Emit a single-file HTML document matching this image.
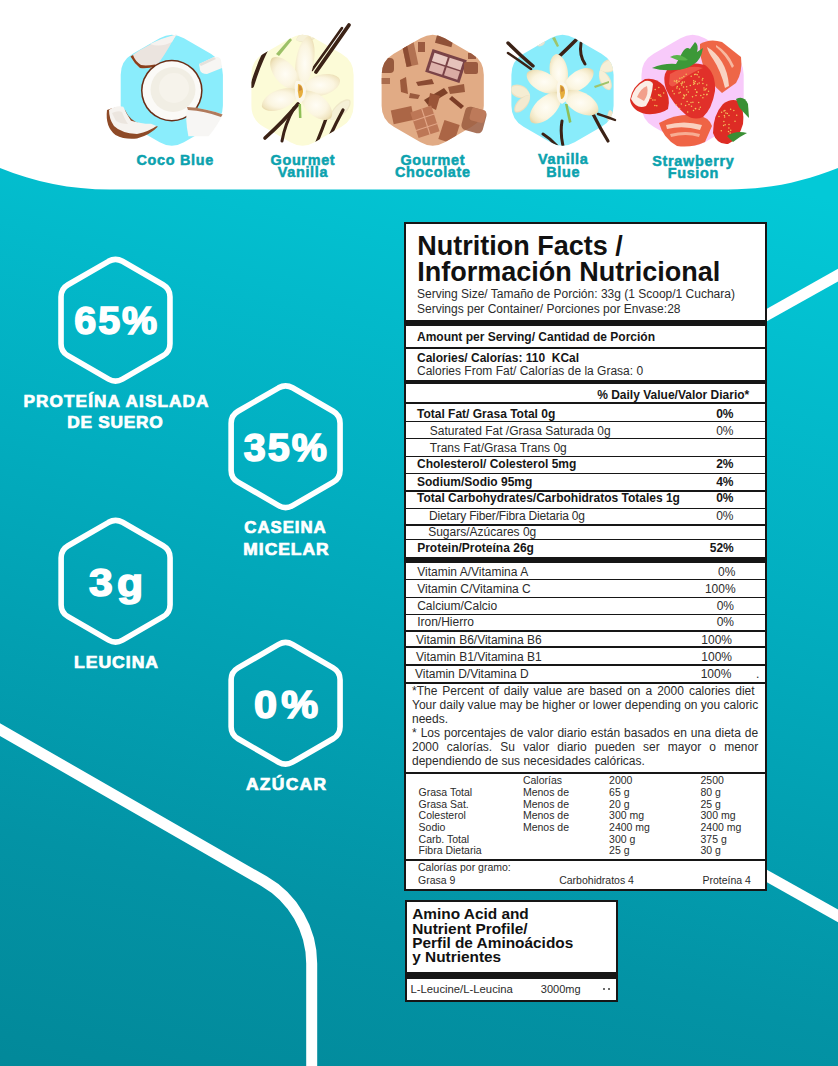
<!DOCTYPE html><html><head><meta charset="utf-8"><style>
*{margin:0;padding:0;box-sizing:border-box}
html,body{width:838px;height:1066px;overflow:hidden;background:#fff}
body{position:relative;font-family:"Liberation Sans",sans-serif}
.a{position:absolute;white-space:nowrap}
svg{position:absolute;left:0;top:0}
.t12{font-size:12px;line-height:12px;color:#2b2b2b}
.b12{font-size:12px;line-height:12px;font-weight:bold;color:#161616}
.t105{font-size:10.5px;line-height:10.5px;color:#2b2b2b}
.hl{position:absolute;background:#161616}
.wl{color:#fff;font-weight:bold;text-align:center;-webkit-text-stroke:0.7px #fff}
.wn{-webkit-text-stroke:1.6px #fff}
.fl{color:#0ba2ae;font-weight:bold;text-align:center;font-size:14.8px;line-height:12px;-webkit-text-stroke:0.5px #0ba2ae}
</style></head><body>
<svg width="838" height="1066" viewBox="0 0 838 1066">
<defs><linearGradient id="bg" gradientUnits="userSpaceOnUse" x1="419" y1="100.6" x2="169.4" y2="1140.6">
<stop offset="0" stop-color="#03c9d7"/><stop offset="0.2" stop-color="#03bacb"/><stop offset="0.385" stop-color="#02adbf"/><stop offset="0.568" stop-color="#02a0b2"/><stop offset="0.756" stop-color="#0393a5"/><stop offset="0.939" stop-color="#028a9b"/><stop offset="1" stop-color="#028798"/></linearGradient></defs>
<path d="M0,168 C35,182 70,189.5 110,189.5 L728,189.5 C768,189.5 803,182 838,168 L838,1066 L0,1066 Z" fill="url(#bg)"/>
<path d="M-10,723.86 L263.99,881.13 A95,95 0 0 1 311.70,963.52 L311.7,1080" fill="none" stroke="#fff" stroke-width="11"/>
<path d="M850,268.37 L700,352.46" fill="none" stroke="#fff" stroke-width="11"/>
<path d="M700,838.35 L850,922.65" fill="none" stroke="#fff" stroke-width="11"/>
<path d="M108.57,261.30 Q115.50,257.30 122.43,261.30 L163.04,284.75 Q169.97,288.75 169.97,296.75 L169.97,343.65 Q169.97,351.65 163.04,355.65 L122.43,379.10 Q115.50,383.10 108.57,379.10 L67.96,355.65 Q61.03,351.65 61.03,343.65 L61.03,296.75 Q61.03,288.75 67.96,284.75 Z" fill="none" stroke="#fff" stroke-width="5.6"/>
<path d="M278.67,387.80 Q285.60,383.80 292.53,387.80 L333.14,411.25 Q340.07,415.25 340.07,423.25 L340.07,470.15 Q340.07,478.15 333.14,482.15 L292.53,505.60 Q285.60,509.60 278.67,505.60 L238.06,482.15 Q231.13,478.15 231.13,470.15 L231.13,423.25 Q231.13,415.25 238.06,411.25 Z" fill="none" stroke="#fff" stroke-width="5.6"/>
<path d="M108.67,522.30 Q115.60,518.30 122.53,522.30 L163.14,545.75 Q170.07,549.75 170.07,557.75 L170.07,604.65 Q170.07,612.65 163.14,616.65 L122.53,640.10 Q115.60,644.10 108.67,640.10 L68.06,616.65 Q61.13,612.65 61.13,604.65 L61.13,557.75 Q61.13,549.75 68.06,545.75 Z" fill="none" stroke="#fff" stroke-width="5.6"/>
<path d="M278.67,644.40 Q285.60,640.40 292.53,644.40 L333.14,667.85 Q340.07,671.85 340.07,679.85 L340.07,726.75 Q340.07,734.75 333.14,738.75 L292.53,762.20 Q285.60,766.20 278.67,762.20 L238.06,738.75 Q231.13,734.75 231.13,726.75 L231.13,679.85 Q231.13,671.85 238.06,667.85 Z" fill="none" stroke="#fff" stroke-width="5.6"/>
<path d="M159.68,38.20 Q171.80,31.20 183.92,38.20 L210.77,53.70 Q222.90,60.70 222.90,74.70 L222.90,105.70 Q222.90,119.70 210.77,126.70 L183.92,142.20 Q171.80,149.20 159.68,142.20 L132.83,126.70 Q120.70,119.70 120.70,105.70 L120.70,74.70 Q120.70,60.70 132.83,53.70 Z" fill="#8aedfc"/>
<path d="M290.38,38.20 Q302.50,31.20 314.62,38.20 L341.47,53.70 Q353.60,60.70 353.60,74.70 L353.60,105.70 Q353.60,119.70 341.47,126.70 L314.62,142.20 Q302.50,149.20 290.38,142.20 L263.53,126.70 Q251.40,119.70 251.40,105.70 L251.40,74.70 Q251.40,60.70 263.53,53.70 Z" fill="#fcfbd7"/>
<path d="M420.58,38.20 Q432.70,31.20 444.82,38.20 L471.67,53.70 Q483.80,60.70 483.80,74.70 L483.80,105.70 Q483.80,119.70 471.67,126.70 L444.82,142.20 Q432.70,149.20 420.58,142.20 L393.73,126.70 Q381.60,119.70 381.60,105.70 L381.60,74.70 Q381.60,60.70 393.73,53.70 Z" fill="#e1ab85"/>
<path d="M550.38,38.20 Q562.50,31.20 574.62,38.20 L601.47,53.70 Q613.60,60.70 613.60,74.70 L613.60,105.70 Q613.60,119.70 601.47,126.70 L574.62,142.20 Q562.50,149.20 550.38,142.20 L523.53,126.70 Q511.40,119.70 511.40,105.70 L511.40,74.70 Q511.40,60.70 523.53,53.70 Z" fill="#89ecfb"/>
<path d="M680.48,38.20 Q692.60,31.20 704.72,38.20 L731.57,53.70 Q743.70,60.70 743.70,74.70 L743.70,105.70 Q743.70,119.70 731.57,126.70 L704.72,142.20 Q692.60,149.20 680.48,142.20 L653.63,126.70 Q641.50,119.70 641.50,105.70 L641.50,74.70 Q641.50,60.70 653.63,53.70 Z" fill="#f8cafa"/>
<defs><clipPath id="h1"><path d="M159.68,38.20 Q171.80,31.20 183.92,38.20 L210.77,53.70 Q222.90,60.70 222.90,74.70 L222.90,105.70 Q222.90,119.70 210.77,126.70 L183.92,142.20 Q171.80,149.20 159.68,142.20 L132.83,126.70 Q120.70,119.70 120.70,105.70 L120.70,74.70 Q120.70,60.70 132.83,53.70 Z"/></clipPath><clipPath id="h2"><path d="M290.38,38.20 Q302.50,31.20 314.62,38.20 L341.47,53.70 Q353.60,60.70 353.60,74.70 L353.60,105.70 Q353.60,119.70 341.47,126.70 L314.62,142.20 Q302.50,149.20 290.38,142.20 L263.53,126.70 Q251.40,119.70 251.40,105.70 L251.40,74.70 Q251.40,60.70 263.53,53.70 Z"/></clipPath><clipPath id="h3"><path d="M420.58,38.20 Q432.70,31.20 444.82,38.20 L471.67,53.70 Q483.80,60.70 483.80,74.70 L483.80,105.70 Q483.80,119.70 471.67,126.70 L444.82,142.20 Q432.70,149.20 420.58,142.20 L393.73,126.70 Q381.60,119.70 381.60,105.70 L381.60,74.70 Q381.60,60.70 393.73,53.70 Z"/></clipPath><clipPath id="h4"><path d="M550.38,38.20 Q562.50,31.20 574.62,38.20 L601.47,53.70 Q613.60,60.70 613.60,74.70 L613.60,105.70 Q613.60,119.70 601.47,126.70 L574.62,142.20 Q562.50,149.20 550.38,142.20 L523.53,126.70 Q511.40,119.70 511.40,105.70 L511.40,74.70 Q511.40,60.70 523.53,53.70 Z"/></clipPath><clipPath id="h5"><path d="M680.48,38.20 Q692.60,31.20 704.72,38.20 L731.57,53.70 Q743.70,60.70 743.70,74.70 L743.70,105.70 Q743.70,119.70 731.57,126.70 L704.72,142.20 Q692.60,149.20 680.48,142.20 L653.63,126.70 Q641.50,119.70 641.50,105.70 L641.50,74.70 Q641.50,60.70 653.63,53.70 Z"/></clipPath></defs>

<g>
<!-- top-left shell piece -->
<path d="M130.5,56.5 Q150,42 176.5,34.5 L173,40 Q165,55 156,66.5 Q147,69 140,68 Q134,63 130.5,56.5 Z" fill="#ebe4df"/>
<path d="M150,44 Q162,38 176.5,34.5 L172,42 Q160,48 150,44 Z" fill="#f6f2ef"/>
<path d="M130.5,56.5 Q134,63 140,68 Q147,69 156,66.5 L155,64.5 Q146,66 141,65 Q135,61 133,55 Z" fill="#8a3f1c"/>
<!-- big coconut -->
<circle cx="171.8" cy="90.6" r="30.8" fill="#6a2e17"/>
<circle cx="171.8" cy="90.6" r="29.3" fill="#fbfaf7"/>
<circle cx="173" cy="89.5" r="22.5" fill="#f1eee4"/>
<circle cx="174" cy="88" r="15" fill="#f6f3eb"/>
<!-- right small chunk -->
<path d="M199,64 L214,57 Q219,56 221,60 L222,68 L207,74 Q201,74 200,70 Z" fill="#f7f6f3"/>
<path d="M199,64 L214,57 L216,59 L201,66 Z" fill="#e5e1dc"/>
<!-- bottom-left shell -->
<path d="M107,110 Q105,127 115.5,135 Q125,140 137,138.5 Q150,135 158,126.5 Q150,125 141,124 Q130,121 125,110 Q117,105 107,110 Z" fill="#8e4a27"/>
<path d="M109,110 Q116,105 123.3,106.7 Q127,115 131,120.7 Q142,124 151,123.8 L156.5,126 Q150,131 137,134 Q121,133 114,126 Q109,119 109,110 Z" fill="#f6f3ef"/>
<path d="M112,113 Q118,110 122,112 Q125,120 128,124 Q121,124 116,121 Z" fill="#ece6df"/>
<!-- bottom-right chunk -->
<path d="M187,107 Q205,108 222.6,114.5 Q218,125 208.6,136.2 L188.4,136.2 Q185,120 187,107 Z" fill="#f7f6f4"/>
<path d="M187,107 Q205,108 222.6,114.5 L221,117 Q205,111 188,110 Z" fill="#b07a5c"/>
</g><defs><radialGradient id="pgr" cx="0.5" cy="0.5" r="0.62"><stop offset="0" stop-color="#fffdf5"/><stop offset="0.55" stop-color="#fbf5e0"/><stop offset="0.85" stop-color="#f1e6c2"/><stop offset="1" stop-color="#e6d6a8"/></radialGradient></defs><g><g clip-path="url(#h2)"><path d="M330.0,120.0 C342.4,120.4 353.5,105.5 350.0,100.0 C344.5,96.5 329.6,107.6 330.0,120.0 Z" fill="#efe8c8"/><path d="M330.0,120.0 C340.7,119.5 351.5,105.5 349.0,101.0 C344.5,98.5 330.5,109.3 330.0,120.0 Z" fill="#f5f0d6"/><path d="M265.0,128.0 C254.9,124.6 246.8,134.5 250.0,140.0 C254.7,144.3 266.1,138.6 265.0,128.0 Z" fill="#efe8c8"/><path d="M265.0,128.0 C256.3,125.7 248.4,134.9 250.8,139.4 C254.6,142.7 265.3,137.0 265.0,128.0 Z" fill="#f5f0d6"/><path d="M296.0,40.0 C305.7,46.1 319.1,38.3 318.0,32.0 C314.7,26.5 299.5,29.1 296.0,40.0 Z" fill="#eee6c4"/><path d="M296.0,40.0 C304.6,44.5 317.5,37.5 316.9,32.4 C314.1,28.1 299.7,31.0 296.0,40.0 Z" fill="#f6f1d8"/><path d="M276,54 L290,38 L292,40 L279,56 Z" fill="#9cc067"/><path d="M266,50 Q258,66 252,86" fill="none" stroke="#3b2216" stroke-width="4" stroke-linecap="round"/><path d="M327,116 Q322,130 317,142" fill="none" stroke="#3b2216" stroke-width="3.2" stroke-linecap="round"/><path d="M343,110 Q336,123 330,136" fill="none" stroke="#3b2216" stroke-width="3.2" stroke-linecap="round"/></g><path d="M349,25 Q333,48 316,72" fill="none" stroke="#3b2216" stroke-width="3.8" stroke-linecap="round"/><path d="M342,28 Q328,48 312,70" fill="none" stroke="#3b2216" stroke-width="2.6" stroke-linecap="round"/><path d="M298,104 Q283,122 265,138" fill="none" stroke="#3b2216" stroke-width="3.6" stroke-linecap="round"/><path d="M294,108 Q285,124 282,141" fill="none" stroke="#3b2216" stroke-width="3.0" stroke-linecap="round"/><path d="M300.0,91.0 C316.5,76.8 318.2,40.3 309.0,36.0 C298.9,37.2 288.9,72.2 300.0,91.0 Z" fill="url(#pgr)"/><path d="M300.0,91.0 C303.8,70.7 281.9,52.4 272.0,58.0 C264.9,66.9 279.4,91.5 300.0,91.0 Z" fill="url(#pgr)"/><path d="M300.0,91.0 C316.2,103.1 341.0,91.3 340.0,80.0 C335.0,69.8 307.8,72.3 300.0,91.0 Z" fill="url(#pgr)"/><path d="M300.0,91.0 C282.8,82.0 259.8,96.5 262.0,107.0 C268.0,115.9 294.4,109.6 300.0,91.0 Z" fill="url(#pgr)"/><path d="M300.0,91.0 C298.8,111.2 322.1,125.1 331.0,118.0 C336.8,108.2 319.8,87.0 300.0,91.0 Z" fill="url(#pgr)"/><path d="M296,81 Q304,79 306,89 Q306,101 300,103 Q294,99 295,91 Q294,85 296,81 Z" fill="#fbf7ea"/><path d="M298,84 Q303,84 303,92 Q302,98 299,98 Q297,91 298,84 Z" fill="#e6ad3c"/><path d="M299,85 Q302,86 302,90 L299,91 Z" fill="#c9883a"/><path d="M298.5,104 L299,118 L301.5,118 L301,104 Z" fill="#8fbf57"/></g><g clip-path="url(#h3)"><rect x="436" y="35" width="17" height="10" transform="rotate(15 444 40)" fill="#8f5138"/><rect x="418" y="42" width="7" height="10" fill="#9a5a40"/><rect x="404" y="42" width="12" height="24" transform="rotate(-12 410 54)" fill="#b27252"/><rect x="404" y="42" width="5" height="24" transform="rotate(-12 410 54)" fill="#8c4c33"/><rect x="378" y="58" width="16" height="15" rx="4" fill="#8a4a30" opacity="0.85"/><rect x="380" y="78" width="10" height="6" fill="#9c5c3e" opacity="0.8"/><g transform="rotate(18 446 66)"><rect x="428" y="54" width="36" height="24" fill="#7a4347"/><rect x="431" y="57" width="14" height="8.5" fill="#e9c9c2"/><rect x="447" y="57" width="14" height="8.5" fill="#e6c2bb"/><rect x="431" y="67" width="14" height="8.5" fill="#ddb2ab"/><rect x="447" y="67" width="14" height="8.5" fill="#d9aca4"/></g><rect x="464" y="62" width="14" height="12" rx="2" fill="#9a5a40"/><rect x="468" y="53" width="8" height="6" fill="#9a5a40"/><path d="M416,82 L432,79 L434,84 L418,86 Z" fill="#8a4a32"/><path d="M400,80 L406,77 L408,94 L401,92 Z" fill="#9c5a3c"/><path d="M424,100 L444,88 L448,93 L428,105 Z" fill="#7e4128"/><path d="M448,87 L464,84 L465,92 L450,94 Z" fill="#9a5a3d"/><path d="M452,96 L464,106 L461,109 L449,99 Z" fill="#7b3c26"/><path d="M430,93 L440,96 L436,110 L428,106 Z" fill="#9a5437"/><path d="M410,93 L420,95 L418,99 L409,98 Z" fill="#9a5a3e"/><rect x="392" y="108" width="21" height="14" transform="rotate(-12 403 115)" fill="#ab6646"/><g transform="rotate(-18 426 122)"><rect x="414" y="108" width="22" height="27" fill="#bd7756"/><path d="M414,117 L438,117 M414,127 L438,127 M426,108 L426,136" stroke="#e2a686" stroke-width="1.2"/></g><rect x="441" y="122" width="16" height="20" transform="rotate(18 449 132)" fill="#ab6545"/></g><rect x="463" y="108" width="22" height="24" rx="5" transform="rotate(15 474 120)" fill="#9a5a3e" opacity="0.85"/><rect x="469" y="108" width="15" height="13" rx="3" transform="rotate(15 474 120)" fill="#c07c5c" opacity="0.9"/><g><g clip-path="url(#h4)"><path d="M530.0,95.0 C527.3,83.5 513.3,81.7 510.0,88.0 C508.7,95.0 520.7,102.3 530.0,95.0 Z" fill="#ede2c2"/><path d="M530.0,95.0 C527.0,85.5 513.8,83.5 511.0,88.3 C510.2,93.9 521.8,100.6 530.0,95.0 Z" fill="#f5edd3"/><path d="M530.0,95.0 C519.5,94.8 511.6,107.4 515.0,112.0 C519.9,114.9 531.5,105.4 530.0,95.0 Z" fill="#ebdfc0"/><path d="M530.0,95.0 C521.0,95.5 513.2,107.4 515.8,111.2 C519.8,113.2 530.6,104.0 530.0,95.0 Z" fill="#f3ead0"/><path d="M600.0,70.0 C609.5,76.7 619.9,68.8 618.0,62.0 C614.3,56.0 601.3,58.5 600.0,70.0 Z" fill="#ede3c5"/><path d="M600.0,70.0 C608.3,75.1 618.4,67.8 617.1,62.4 C614.0,57.8 601.8,60.4 600.0,70.0 Z" fill="#f6efd7"/><path d="M600.0,70.0 C595.8,79.6 604.5,91.5 610.0,90.0 C614.5,86.5 610.2,72.4 600.0,70.0 Z" fill="#ede3c5"/><path d="M600.0,70.0 C597.1,78.5 605.1,90.0 609.5,89.0 C612.9,86.0 608.5,72.7 600.0,70.0 Z" fill="#f6efd7"/><path d="M610.0,110.0 C604.7,115.3 607.7,124.8 612.0,125.0 C616.1,123.7 616.5,113.7 610.0,110.0 Z" fill="#e8dcc0"/><path d="M610.0,110.0 C605.8,114.8 608.5,123.9 611.9,124.2 C615.1,123.1 615.3,113.6 610.0,110.0 Z" fill="#efe6cc"/><path d="M535.0,45.0 C540.7,48.9 546.4,44.0 545.0,40.0 C542.6,36.5 535.3,38.1 535.0,45.0 Z" fill="#e2dfcc"/><path d="M535.0,45.0 C539.9,47.9 545.5,43.5 544.5,40.2 C542.5,37.5 535.7,39.3 535.0,45.0 Z" fill="#eae8d8"/><path d="M552,38 L557,47 L559,46 L555,37 Z" fill="#9ec46a"/><path d="M594,86 L609,81 L609,83 L595,88 Z" fill="#9ec46a"/><path d="M576,40 Q563,53 552,63" fill="none" stroke="#3b2216" stroke-width="3.6" stroke-linecap="round"/><path d="M581,43 Q579,55 585,64" fill="none" stroke="#3b2216" stroke-width="3.0" stroke-linecap="round"/><path d="M562,121 Q560,133 563,146" fill="none" stroke="#3b2216" stroke-width="3.0" stroke-linecap="round"/><path d="M543,134 Q551,139 557,146" fill="none" stroke="#3b2216" stroke-width="3.0" stroke-linecap="round"/></g><path d="M508,43 Q521,56 533,66" fill="none" stroke="#3b2216" stroke-width="3.4" stroke-linecap="round"/><path d="M508,53 Q520,61 531,69" fill="none" stroke="#3b2216" stroke-width="2.6" stroke-linecap="round"/><path d="M593,114 Q600,128 608,141" fill="none" stroke="#3b2216" stroke-width="3.2" stroke-linecap="round"/><path d="M598,114 Q610,118 615,120" fill="none" stroke="#3b2216" stroke-width="2.4" stroke-linecap="round"/><path d="M562.0,92.0 C574.0,78.4 566.0,54.4 556.0,54.0 C546.6,57.4 546.4,82.8 562.0,92.0 Z" fill="url(#pgr)"/><path d="M562.0,92.0 C558.7,73.1 533.8,64.7 527.0,73.0 C523.7,83.2 544.3,99.5 562.0,92.0 Z" fill="url(#pgr)"/><path d="M562.0,92.0 C579.4,96.8 597.1,79.1 593.0,70.0 C585.8,63.1 563.2,74.0 562.0,92.0 Z" fill="url(#pgr)"/><path d="M562.0,92.0 C541.6,89.5 524.8,112.5 531.0,122.0 C540.3,128.5 563.8,112.5 562.0,92.0 Z" fill="url(#pgr)"/><path d="M562.0,92.0 C565.0,112.0 590.8,120.8 598.0,112.0 C601.6,101.2 580.6,84.0 562.0,92.0 Z" fill="url(#pgr)"/><path d="M558,82 Q566,80 568,90 Q568,102 562,104 Q556,100 557,92 Q556,86 558,82 Z" fill="#fbf7ea"/><path d="M560,85 Q565,85 565,93 Q564,99 561,99 Q559,92 560,85 Z" fill="#e6ad3c"/><path d="M561,86 Q564,87 564,91 L561,92 Z" fill="#c9883a"/><path d="M565,104 L569,123 L571.5,122 L567.5,104 Z" fill="#8fbf57"/></g><g><path d="M700,44 Q710,38 722,42 L741,57 Q743,72 736,83 L722,93 Q711,84 705,70 Q699,56 700,44 Z" fill="#ee6647"/><path d="M707,47 Q716,52 722,62 Q728,72 729,86 L725,88 Q721,71 713,59 Q708,52 707,47 Z" fill="#f9d3c2"/><path d="M716,45 Q728,52 734,66 L732,68 Q726,55 716,47 Z" fill="#f7b8a0"/><path d="M659,123 Q676,113 697,115 Q709,117 712,126 L705,142 Q692,148 677,146 Q663,138 659,123 Z" fill="#ef6446"/><path d="M666,125 Q684,120 702,125 L700,130 Q683,125 667,129 Z" fill="#fad0be"/><path d="M670,134 Q686,130 700,134 L699,137 Q686,133 671,137 Z" fill="#f7ad93"/><path d="M630,100 Q632,86 645,79 Q656,77 664,86 Q671,98 668,109 Q660,115 646,114 Q632,111 630,100 Z" fill="#dc2c22"/><path d="M631,99 Q634,86 645,81 Q651,80 653,84 Q652,97 646,106 Q637,110 631,99 Z" fill="#fbeee6"/><path d="M637,97 Q641,88 647,86 Q649,94 644,101 Z" fill="#f2a08c"/><circle cx="655.2" cy="89.6" r="0.75" fill="#f4c35c"/><circle cx="658.6" cy="94.8" r="0.75" fill="#f4c35c"/><circle cx="650.9" cy="98.2" r="0.75" fill="#f4c35c"/><circle cx="656.8" cy="105.8" r="0.75" fill="#f4c35c"/><circle cx="659.2" cy="95.5" r="0.75" fill="#f4c35c"/><circle cx="663.7" cy="93.0" r="0.75" fill="#f4c35c"/><circle cx="654.9" cy="105.6" r="0.75" fill="#f4c35c"/><circle cx="652.9" cy="100.0" r="0.75" fill="#f4c35c"/><circle cx="660.2" cy="94.9" r="0.75" fill="#f4c35c"/><circle cx="658.8" cy="87.5" r="0.75" fill="#f4c35c"/><circle cx="660.9" cy="96.3" r="0.75" fill="#f4c35c"/><circle cx="655.0" cy="100.1" r="0.75" fill="#f4c35c"/><path d="M667,70 Q686,60 705,65 Q716,73 715,91 Q712,109 703,117 Q694,121 686,115 Q672,103 666,89 Q662,77 667,70 Z" fill="#e1302a"/><path d="M670,74 Q688,64 703,68 Q692,72 680,81 Q672,90 669,84 Z" fill="#ee5646"/><circle cx="679.0" cy="93.1" r="0.75" fill="#f4c35c"/><circle cx="684.5" cy="96.0" r="0.75" fill="#f4c35c"/><circle cx="679.9" cy="78.2" r="0.75" fill="#f4c35c"/><circle cx="704.1" cy="89.9" r="0.75" fill="#f4c35c"/><circle cx="695.8" cy="74.2" r="0.75" fill="#f4c35c"/><circle cx="695.7" cy="108.7" r="0.75" fill="#f4c35c"/><circle cx="691.0" cy="102.6" r="0.75" fill="#f4c35c"/><circle cx="700.8" cy="95.4" r="0.75" fill="#f4c35c"/><circle cx="705.4" cy="89.7" r="0.75" fill="#f4c35c"/><circle cx="699.2" cy="109.2" r="0.75" fill="#f4c35c"/><circle cx="685.6" cy="105.4" r="0.75" fill="#f4c35c"/><circle cx="687.7" cy="111.9" r="0.75" fill="#f4c35c"/><circle cx="695.3" cy="81.4" r="0.75" fill="#f4c35c"/><circle cx="690.3" cy="85.5" r="0.75" fill="#f4c35c"/><circle cx="683.7" cy="95.1" r="0.75" fill="#f4c35c"/><circle cx="693.5" cy="110.4" r="0.75" fill="#f4c35c"/><circle cx="697.2" cy="74.8" r="0.75" fill="#f4c35c"/><circle cx="707.0" cy="94.3" r="0.75" fill="#f4c35c"/><circle cx="699.0" cy="77.1" r="0.75" fill="#f4c35c"/><circle cx="703.9" cy="94.5" r="0.75" fill="#f4c35c"/><circle cx="686.2" cy="74.2" r="0.75" fill="#f4c35c"/><circle cx="681.3" cy="103.9" r="0.75" fill="#f4c35c"/><circle cx="699.2" cy="82.9" r="0.75" fill="#f4c35c"/><circle cx="677.3" cy="86.6" r="0.75" fill="#f4c35c"/><circle cx="694.6" cy="74.5" r="0.75" fill="#f4c35c"/><circle cx="706.7" cy="85.1" r="0.75" fill="#f4c35c"/><circle cx="688.3" cy="92.0" r="0.75" fill="#f4c35c"/><circle cx="696.0" cy="95.6" r="0.75" fill="#f4c35c"/><circle cx="692.5" cy="96.8" r="0.75" fill="#f4c35c"/><circle cx="708.5" cy="91.3" r="0.75" fill="#f4c35c"/><circle cx="687.1" cy="101.6" r="0.75" fill="#f4c35c"/><circle cx="679.0" cy="81.5" r="0.75" fill="#f4c35c"/><circle cx="686.4" cy="94.8" r="0.75" fill="#f4c35c"/><circle cx="695.3" cy="89.4" r="0.75" fill="#f4c35c"/><circle cx="697.5" cy="83.9" r="0.75" fill="#f4c35c"/><circle cx="698.7" cy="102.4" r="0.75" fill="#f4c35c"/><circle cx="679.5" cy="88.9" r="0.75" fill="#f4c35c"/><circle cx="693.9" cy="82.4" r="0.75" fill="#f4c35c"/><circle cx="684.3" cy="82.0" r="0.75" fill="#f4c35c"/><circle cx="684.5" cy="95.6" r="0.75" fill="#f4c35c"/><circle cx="681.6" cy="85.1" r="0.75" fill="#f4c35c"/><circle cx="692.9" cy="102.3" r="0.75" fill="#f4c35c"/><circle cx="682.0" cy="77.7" r="0.75" fill="#f4c35c"/><circle cx="702.8" cy="78.5" r="0.75" fill="#f4c35c"/><circle cx="676.9" cy="87.9" r="0.75" fill="#f4c35c"/><circle cx="698.3" cy="71.9" r="0.75" fill="#f4c35c"/><circle cx="682.5" cy="83.0" r="0.75" fill="#f4c35c"/><circle cx="704.0" cy="88.0" r="0.75" fill="#f4c35c"/><circle cx="683.1" cy="98.2" r="0.75" fill="#f4c35c"/><circle cx="706.2" cy="88.7" r="0.75" fill="#f4c35c"/><circle cx="691.2" cy="76.2" r="0.75" fill="#f4c35c"/><circle cx="676.7" cy="80.4" r="0.75" fill="#f4c35c"/><circle cx="702.9" cy="97.8" r="0.75" fill="#f4c35c"/><circle cx="702.9" cy="83.6" r="0.75" fill="#f4c35c"/><circle cx="674.4" cy="81.0" r="0.75" fill="#f4c35c"/><circle cx="702.3" cy="80.0" r="0.75" fill="#f4c35c"/><circle cx="683.5" cy="87.0" r="0.75" fill="#f4c35c"/><circle cx="686.6" cy="86.7" r="0.75" fill="#f4c35c"/><circle cx="700.3" cy="107.2" r="0.75" fill="#f4c35c"/><circle cx="696.8" cy="91.9" r="0.75" fill="#f4c35c"/><circle cx="681.1" cy="83.4" r="0.75" fill="#f4c35c"/><circle cx="693.7" cy="80.8" r="0.75" fill="#f4c35c"/><circle cx="706.8" cy="94.7" r="0.75" fill="#f4c35c"/><circle cx="676.2" cy="81.4" r="0.75" fill="#f4c35c"/><circle cx="696.8" cy="92.2" r="0.75" fill="#f4c35c"/><circle cx="694.7" cy="83.4" r="0.75" fill="#f4c35c"/><circle cx="679.6" cy="108.4" r="0.75" fill="#f4c35c"/><circle cx="689.0" cy="104.6" r="0.75" fill="#f4c35c"/><circle cx="683.8" cy="76.5" r="0.75" fill="#f4c35c"/><circle cx="691.5" cy="106.2" r="0.75" fill="#f4c35c"/><circle cx="676.2" cy="105.0" r="0.75" fill="#f4c35c"/><circle cx="695.4" cy="108.4" r="0.75" fill="#f4c35c"/><circle cx="680.3" cy="92.3" r="0.75" fill="#f4c35c"/><circle cx="686.8" cy="89.7" r="0.75" fill="#f4c35c"/><circle cx="672.6" cy="91.1" r="0.75" fill="#f4c35c"/><circle cx="682.3" cy="82.1" r="0.75" fill="#f4c35c"/><circle cx="683.8" cy="98.1" r="0.75" fill="#f4c35c"/><circle cx="693.6" cy="84.3" r="0.75" fill="#f4c35c"/><circle cx="677.0" cy="82.8" r="0.75" fill="#f4c35c"/><circle cx="674.2" cy="93.7" r="0.75" fill="#f4c35c"/><path d="M652,68 Q664,63 676,64 L682,53 Q686,46 690,49 L695,42 Q699,45 697,52 L703,48 Q701,60 694,64 Q686,70 674,70 Q662,71 652,68 Z" fill="#3c9838"/><path d="M670,57 Q679,52 688,60 Q679,62 670,57 Z" fill="#5ab44b"/><path d="M713,133 Q713,115 723,104 Q731,98 738,101 Q745,110 743,124 Q739,139 728,144 Q717,145 713,133 Z" fill="#dd2c25"/><circle cx="730.7" cy="130.2" r="0.75" fill="#f4c35c"/><circle cx="727.3" cy="113.4" r="0.75" fill="#f4c35c"/><circle cx="729.0" cy="124.5" r="0.75" fill="#f4c35c"/><circle cx="733.8" cy="110.4" r="0.75" fill="#f4c35c"/><circle cx="730.6" cy="109.3" r="0.75" fill="#f4c35c"/><circle cx="721.6" cy="112.3" r="0.75" fill="#f4c35c"/><circle cx="728.9" cy="128.0" r="0.75" fill="#f4c35c"/><circle cx="736.7" cy="115.2" r="0.75" fill="#f4c35c"/><circle cx="724.9" cy="110.6" r="0.75" fill="#f4c35c"/><circle cx="723.6" cy="125.5" r="0.75" fill="#f4c35c"/><circle cx="724.4" cy="115.5" r="0.75" fill="#f4c35c"/><circle cx="735.0" cy="121.3" r="0.75" fill="#f4c35c"/><circle cx="723.9" cy="121.4" r="0.75" fill="#f4c35c"/><circle cx="733.5" cy="133.7" r="0.75" fill="#f4c35c"/><circle cx="725.1" cy="124.7" r="0.75" fill="#f4c35c"/><circle cx="721.3" cy="130.7" r="0.75" fill="#f4c35c"/><circle cx="724.6" cy="117.1" r="0.75" fill="#f4c35c"/><circle cx="728.5" cy="131.4" r="0.75" fill="#f4c35c"/><circle cx="719.0" cy="116.6" r="0.75" fill="#f4c35c"/><circle cx="730.4" cy="136.2" r="0.75" fill="#f4c35c"/><circle cx="729.0" cy="115.6" r="0.75" fill="#f4c35c"/><circle cx="724.0" cy="111.0" r="0.75" fill="#f4c35c"/><circle cx="725.9" cy="113.1" r="0.75" fill="#f4c35c"/><circle cx="730.1" cy="133.1" r="0.75" fill="#f4c35c"/><path d="M736,99 Q744,95 748,104 L749,118 Q743,112 739,107 Z" fill="#3a8f34"/><path d="M727,136 Q736,130 747,133 Q739,137 733,142 Z" fill="#3a8f34"/></g>
</svg>
<div class="a fl" style="left:94.90px;width:160px;top:153.11px;font-size:14.4px;line-height:14.4px;letter-spacing:0.7px;padding-left:0.7px">Coco Blue</div>
<div class="a fl" style="left:222.60px;width:160px;top:153.11px;font-size:14.4px;line-height:14.4px;letter-spacing:0.7px;padding-left:0.7px">Gourmet</div>
<div class="a fl" style="left:222.60px;width:160px;top:165.41px;font-size:14.4px;line-height:14.4px;letter-spacing:0.7px;padding-left:0.7px">Vanilla</div>
<div class="a fl" style="left:352.50px;width:160px;top:153.11px;font-size:14.4px;line-height:14.4px;letter-spacing:0.7px;padding-left:0.7px">Gourmet</div>
<div class="a fl" style="left:352.50px;width:160px;top:165.41px;font-size:14.4px;line-height:14.4px;letter-spacing:0.7px;padding-left:0.7px">Chocolate</div>
<div class="a fl" style="left:482.90px;width:160px;top:152.31px;font-size:14.4px;line-height:14.4px;letter-spacing:0.7px;padding-left:0.7px">Vanilla</div>
<div class="a fl" style="left:482.90px;width:160px;top:164.81px;font-size:14.4px;line-height:14.4px;letter-spacing:0.7px;padding-left:0.7px">Blue</div>
<div class="a fl" style="left:613.00px;width:160px;top:153.61px;font-size:14.4px;line-height:14.4px;letter-spacing:0.7px;padding-left:0.7px">Strawberry</div>
<div class="a fl" style="left:613.00px;width:160px;top:166.31px;font-size:14.4px;line-height:14.4px;letter-spacing:0.7px;padding-left:0.7px">Fusion</div>
<div class="a wl wn" style="left:-4.30px;width:240px;top:301.46px;font-size:39.5px;line-height:39.5px;transform:scaleX(1.0);letter-spacing:2.0px;padding-left:2.0px">65%</div>
<div class="a wl" style="left:-4.30px;width:240px;top:393.75px;font-size:16px;line-height:16px;transform:scaleX(1.075);letter-spacing:1.0px;padding-left:1.0px">PROTEÍNA AISLADA</div>
<div class="a wl" style="left:-4.90px;width:240px;top:415.45px;font-size:16px;line-height:16px;transform:scaleX(1.08);letter-spacing:0.7px;padding-left:0.7px">DE SUERO</div>
<div class="a wl wn" style="left:165.40px;width:240px;top:427.86px;font-size:39.5px;line-height:39.5px;transform:scaleX(1.0);letter-spacing:2.0px;padding-left:2.0px">35%</div>
<div class="a wl" style="left:165.40px;width:240px;top:520.15px;font-size:16px;line-height:16px;transform:scaleX(1.05);letter-spacing:0.9px;padding-left:0.9px">CASEINA</div>
<div class="a wl" style="left:165.80px;width:240px;top:542.25px;font-size:16px;line-height:16px;transform:scaleX(1.09);letter-spacing:0.9px;padding-left:0.9px">MICELAR</div>
<div class="a wl wn" style="left:-3.90px;width:240px;top:563.06px;font-size:39.5px;line-height:39.5px;transform:scaleX(1.08);letter-spacing:4.0px;padding-left:4.0px">3g</div>
<div class="a wl" style="left:-4.40px;width:240px;top:655.05px;font-size:16px;line-height:16px;transform:scaleX(1.1);letter-spacing:0.9px;padding-left:0.9px">LEUCINA</div>
<div class="a wl wn" style="left:165.80px;width:240px;top:684.76px;font-size:39.5px;line-height:39.5px;transform:scaleX(1.05);letter-spacing:4.0px;padding-left:4.0px">0%</div>
<div class="a wl" style="left:165.70px;width:240px;top:776.85px;font-size:16px;line-height:16px;transform:scaleX(1.09);letter-spacing:1.2px;padding-left:1.2px">AZÚCAR</div>
<div class="a" style="left:404px;top:222px;width:363px;height:669px;background:#fff;border:2px solid #161616"></div>
<div class="a b12" style="left:417.3px;top:232.74px;font-size:27px;line-height:27px;color:#111">Nutrition Facts /</div>
<div class="a b12" style="left:417.3px;top:259.34px;font-size:27px;line-height:27px;color:#111">Información Nutricional</div>
<div class="a t12" style="left:417px;top:288.44px;">Serving Size/ Tamaño de Porción: 33g (1 Scoop/1 Cuchara)</div>
<div class="a t12" style="left:417px;top:303.24px;">Servings per Container/ Porciones por Envase:28</div>
<div class="hl" style="left:404px;top:319.50px;width:363px;height:6.50px"></div>
<div class="a b12" style="left:417px;top:330.74px;">Amount per Serving/ Cantidad de Porción</div>
<div class="hl" style="left:404px;top:347.00px;width:363px;height:1.50px"></div>
<div class="a b12" style="left:417px;top:352.14px;">Calories/ Calorías: 110&nbsp; KCal</div>
<div class="a t12" style="left:417px;top:365.34px;">Calories From Fat/ Calorías de la Grasa: 0</div>
<div class="hl" style="left:404px;top:380.00px;width:363px;height:3.50px"></div>
<div class="a b12" style="left:597.2px;top:388.74px;">% Daily Value/Valor Diario*</div>
<div class="hl" style="left:404px;top:402.20px;width:363px;height:1.40px"></div>
<div class="a b12" style="left:417px;top:407.54px;">Total Fat/ Grasa Total 0g</div>
<div class="a b12" style="left:653.5px;width:80px;text-align:right;top:407.54px">0%</div>
<div class="hl" style="left:404px;top:420.60px;width:363px;height:1.40px"></div>
<div class="a t12" style="left:429.8px;top:424.74px;">Saturated Fat /Grasa Saturada 0g</div>
<div class="a t12" style="left:653.5px;width:80px;text-align:right;top:424.74px">0%</div>
<div class="hl" style="left:404px;top:437.90px;width:363px;height:1.30px"></div>
<div class="a t12" style="left:429.8px;top:441.74px;">Trans Fat/Grasa Trans 0g</div>
<div class="hl" style="left:404px;top:455.60px;width:363px;height:1.40px"></div>
<div class="a b12" style="left:417px;top:458.24px;">Cholesterol/ Colesterol 5mg</div>
<div class="a b12" style="left:653.5px;width:80px;text-align:right;top:458.24px">2%</div>
<div class="hl" style="left:404px;top:472.50px;width:363px;height:1.40px"></div>
<div class="a b12" style="left:417px;top:475.64px;">Sodium/Sodio 95mg</div>
<div class="a b12" style="left:653.5px;width:80px;text-align:right;top:475.64px">4%</div>
<div class="hl" style="left:404px;top:490.30px;width:363px;height:1.30px"></div>
<div class="a b12" style="left:417px;top:492.34px;">Total Carbohydrates/Carbohidratos Totales 1g</div>
<div class="a b12" style="left:653.5px;width:80px;text-align:right;top:492.34px">0%</div>
<div class="hl" style="left:404px;top:507.50px;width:363px;height:1.30px"></div>
<div class="a t12" style="left:429.1px;top:510.24px;"><span style="letter-spacing:-0.16px">Dietary Fiber/Fibra Dietaria 0g</span></div>
<div class="a t12" style="left:653.5px;width:80px;text-align:right;top:510.24px">0%</div>
<div class="hl" style="left:404px;top:524.40px;width:363px;height:1.20px"></div>
<div class="a t12" style="left:428.2px;top:525.74px;">Sugars/Azúcares 0g</div>
<div class="hl" style="left:404px;top:538.80px;width:363px;height:1.20px"></div>
<div class="a b12" style="left:417.2px;top:541.74px;">Protein/Proteína 26g</div>
<div class="a b12" style="left:653.8px;width:80px;text-align:right;top:541.74px">52%</div>
<div class="hl" style="left:404px;top:556.50px;width:363px;height:6.50px"></div>
<div class="a t12" style="left:417.2px;top:565.64px;">Vitamin A/Vitamina A</div>
<div class="a t12" style="left:655.3px;width:80px;text-align:right;top:565.64px">0%</div>
<div class="hl" style="left:404px;top:578.80px;width:363px;height:1.70px"></div>
<div class="a t12" style="left:417.2px;top:582.54px;">Vitamin C/Vitamina C</div>
<div class="a t12" style="left:655.6px;width:80px;text-align:right;top:582.54px">100%</div>
<div class="hl" style="left:404px;top:596.60px;width:363px;height:1.30px"></div>
<div class="a t12" style="left:417.2px;top:599.74px;">Calcium/Calcio</div>
<div class="a t12" style="left:654px;width:80px;text-align:right;top:599.74px">0%</div>
<div class="hl" style="left:404px;top:613.80px;width:363px;height:1.30px"></div>
<div class="a t12" style="left:417.2px;top:616.44px;">Iron/Hierro</div>
<div class="a t12" style="left:654px;width:80px;text-align:right;top:616.44px">0%</div>
<div class="hl" style="left:404px;top:630.20px;width:363px;height:1.60px"></div>
<div class="a t12" style="left:416px;top:633.64px;">Vitamin B6/Vitamina B6</div>
<div class="a t12" style="left:652px;width:80px;text-align:right;top:633.64px">100%</div>
<div class="hl" style="left:404px;top:646.00px;width:363px;height:1.50px"></div>
<div class="a t12" style="left:416px;top:650.54px;">Vitamin B1/Vitamina B1</div>
<div class="a t12" style="left:652px;width:80px;text-align:right;top:650.54px">100%</div>
<div class="hl" style="left:404px;top:664.00px;width:363px;height:1.60px"></div>
<div class="a t12" style="left:415px;top:668.44px;">Vitamin D/Vitamina D</div>
<div class="a t12" style="left:651.4px;width:80px;text-align:right;top:668.44px">100%</div>
<div class="hl" style="left:404px;top:681.80px;width:363px;height:1.90px"></div>
<div class="a t12" style="left:756px;top:668.44px;">.</div>
<div class="a t12" style="left:412px;top:685.14px;word-spacing:1.672px">*The Percent of daily value are based on a 2000 calories diet</div>
<div class="a t12" style="left:412px;top:698.94px;word-spacing:-0.022px">Your daily value may be higher or lower depending on you caloric</div>
<div class="a t12" style="left:412px;top:712.54px">needs.</div>
<div class="a t12" style="left:412px;top:727.34px;word-spacing:0.663px">* Los porcentajes de valor diario están basados en una dieta de</div>
<div class="a t12" style="left:412px;top:741.24px;word-spacing:4.819px">2000 calorías. Su valor diario pueden ser mayor o menor</div>
<div class="a t12" style="left:412px;top:755.04px">dependiendo de sus necesidades calóricas.</div>
<div class="hl" style="left:404px;top:772.00px;width:363px;height:2.00px"></div>
<div class="a t105" style="left:522.9px;top:774.91px;">Calorías</div>
<div class="a t105" style="left:609.1px;top:774.91px;">2000</div>
<div class="a t105" style="left:700.5px;top:774.91px;">2500</div>
<div class="a t105" style="left:418.6px;top:787.41px;">Grasa Total</div>
<div class="a t105" style="left:522.9px;top:787.41px;">Menos de</div>
<div class="a t105" style="left:609.1px;top:787.41px;">65 g</div>
<div class="a t105" style="left:700.5px;top:787.41px;">80 g</div>
<div class="a t105" style="left:418.6px;top:798.81px;">Grasa Sat.</div>
<div class="a t105" style="left:522.9px;top:798.81px;">Menos de</div>
<div class="a t105" style="left:609.1px;top:798.81px;">20 g</div>
<div class="a t105" style="left:700.5px;top:798.81px;">25 g</div>
<div class="a t105" style="left:418.6px;top:810.01px;">Colesterol</div>
<div class="a t105" style="left:522.9px;top:810.01px;">Menos de</div>
<div class="a t105" style="left:609.1px;top:810.01px;">300 mg</div>
<div class="a t105" style="left:700.5px;top:810.01px;">300 mg</div>
<div class="a t105" style="left:418.6px;top:822.01px;">Sodio</div>
<div class="a t105" style="left:522.9px;top:822.01px;">Menos de</div>
<div class="a t105" style="left:609.1px;top:822.01px;">2400 mg</div>
<div class="a t105" style="left:700.5px;top:822.01px;">2400 mg</div>
<div class="a t105" style="left:418.6px;top:833.91px;">Carb. Total</div>
<div class="a t105" style="left:609.1px;top:833.91px;">300 g</div>
<div class="a t105" style="left:700.5px;top:833.91px;">375 g</div>
<div class="a t105" style="left:418.6px;top:845.31px;">Fibra Dietaria</div>
<div class="a t105" style="left:609.1px;top:845.31px;">25 g</div>
<div class="a t105" style="left:700.5px;top:845.31px;">30 g</div>
<div class="hl" style="left:404px;top:859.00px;width:363px;height:1.50px"></div>
<div class="a t105" style="left:418px;top:861.61px;">Calorías por gramo:</div>
<div class="a t105" style="left:418px;top:874.71px;">Grasa 9</div>
<div class="a t105" style="left:559.2px;top:874.71px;">Carbohidratos 4</div>
<div class="a t105" style="left:702.5px;top:874.71px;">Proteína 4</div>
<div class="a" style="left:405px;top:900px;width:213px;height:102px;background:#fff;border:2px solid #161616"></div>
<div class="a b12" style="left:412.2px;top:906.26px;font-size:15.4px;line-height:15.4px;color:#111">Amino Acid and</div>
<div class="a b12" style="left:412.2px;top:920.66px;font-size:15.4px;line-height:15.4px;color:#111">Nutrient Profile/</div>
<div class="a b12" style="left:412.2px;top:934.96px;font-size:15.4px;line-height:15.4px;color:#111">Perfil de Aminoácidos</div>
<div class="a b12" style="left:412.2px;top:948.96px;font-size:15.4px;line-height:15.4px;color:#111">y Nutrientes</div>
<div class="hl" style="left:405px;top:972.30px;width:213px;height:6.50px"></div>
<div class="a t105" style="left:410.5px;top:983.93px;font-size:11.3px;line-height:11.3px">L-Leucine/L-Leucina</div>
<div class="a t105" style="left:540.8px;top:984.19px;font-size:11px;line-height:11px">3000mg</div>
<div class="a" style="left:602.5px;top:988px;width:2.2px;height:2.2px;border-radius:50%;background:#3a3a3a"></div><div class="a" style="left:607.5px;top:988px;width:2.2px;height:2.2px;border-radius:50%;background:#3a3a3a"></div>
</body></html>
